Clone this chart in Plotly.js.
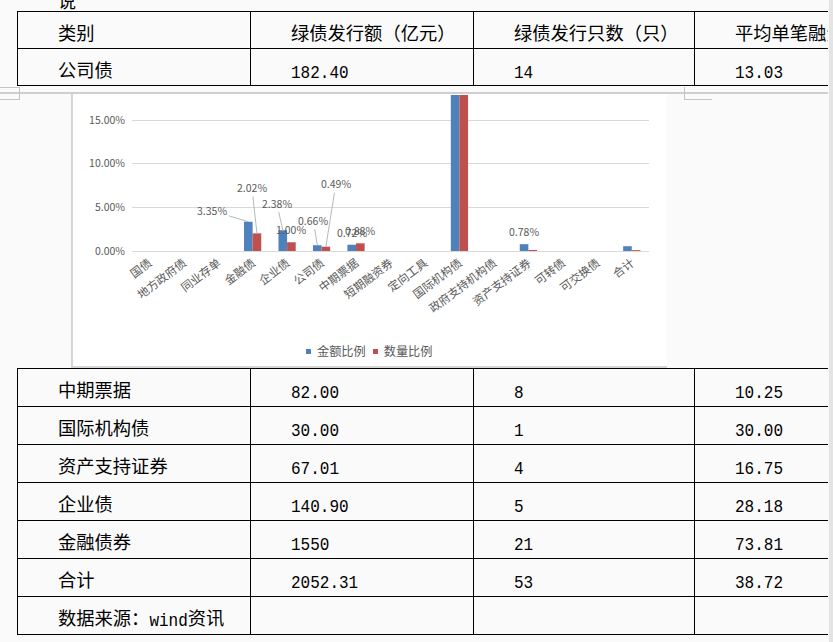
<!DOCTYPE html>
<html>
<head>
<meta charset="utf-8">
<script src="https://cdn.plot.ly/plotly-3.0.1.min.js"></script>
<style>
    body { margin: 0; width: 833px; height: 642px; overflow: hidden; background: #fafafa; position: relative; font-family: "Noto Sans CJK SC", sans-serif; }
    #clip { position: absolute; left: 0; top: 0; width: 828px; height: 642px; overflow: hidden; }
    #strip { position: absolute; left: 829px; top: 0; width: 4px; height: 642px; background: #e4e4e4; }
    table.doc { position: absolute; left: 17px; border-collapse: collapse; table-layout: fixed; width: 900px; }
    table.doc td { border: 1.5px solid #000; padding: 3px 0 0 40px; font-size: 18.3px; color: #000; white-space: nowrap; overflow: hidden; vertical-align: middle; box-sizing: border-box; }
    .num { font-family: "Liberation Mono", monospace; font-size: 16px; display: inline-block; transform: scaleY(1.18); }
    .mark { position: absolute; background: #c4c4c4; }
    #frame { position: absolute; left: 71px; top: 94px; width: 596px; height: 274px; background: #fff; box-sizing: border-box; border-left: 2px solid #d6d6d6; border-bottom: 2px solid #d6d6d6; }
    #chart { position: absolute; left: 73px; top: 94px; width: 594px; height: 272px; }
    #legend { position: absolute; left: 306px; top: 342px; font-size: 12.2px; color: #595959; white-space: nowrap; line-height: 18px; }
    #legend .sw { display: inline-block; width: 5px; height: 5px; margin: 0 6px 2px 0; vertical-align: middle; }
    #legend .item { margin-right: 7px; }
</style>
</head>
<body>
<div id="clip">
    <div style="position:absolute;left:58px;top:-13px;font-size:18px;color:#000;">说</div>

    <table class="doc" id="top-table" style="top:11px;">
        <colgroup><col style="width:233px"><col style="width:223px"><col style="width:221px"><col style="width:223px"></colgroup>
        <tbody></tbody>
    </table>

    <div class="mark" style="left:0;top:92px;width:828px;height:2px;background:#cfcfcf;"></div>
    <div class="mark" style="left:0;top:87px;width:19px;height:1px;"></div>
    <div class="mark" style="left:0;top:99px;width:19px;height:1px;"></div>
    <div class="mark" style="left:19px;top:87px;width:1px;height:13px;"></div>
    <div class="mark" style="left:684px;top:87px;width:1px;height:13px;"></div>
    <div class="mark" style="left:684px;top:99px;width:28px;height:1px;"></div>

    <div id="frame"></div>
    <div id="chart"></div>
    <div id="legend"></div>

    <table class="doc" id="bottom-table" style="top:368px;">
        <colgroup><col style="width:233px"><col style="width:223px"><col style="width:221px"><col style="width:223px"></colgroup>
        <tbody></tbody>
    </table>
</div>
<div id="strip"></div>

<script>
// chart data
var categories = ['国债', '地方政府债', '同业存单', '金融债', '企业债', '公司债', '中期票据', '短期融资券',
    '定向工具', '国际机构债', '政府支持机构债', '资产支持证券', '可转债', '可交换债', '合计']
var amountShare = [0, 0, 0, 0.0335, 0.0238, 0.0066, 0.0072, 0, 0, 0.30, 0, 0.0078, 0, 0, 0.0055]
var countShare = [0, 0, 0, 0.0202, 0.0100, 0.0049, 0.0088, 0, 0, 0.30, 0, 0.0012, 0, 0, 0.0010]
var seriesNames = ['金额比例', '数量比例']
var yTicks = [0, 0.05, 0.10, 0.15]

// table data
var tableHeader = ['类别', '绿债发行额（亿元）', '绿债发行只数（只）', '平均单笔融资额（亿元）']
var topRows = [['公司债', '182.40', '14', '13.03']]
var bottomRows = [
    ['中期票据', '82.00', '8', '10.25'],
    ['国际机构债', '30.00', '1', '30.00'],
    ['资产支持证券', '67.01', '4', '16.75'],
    ['企业债', '140.90', '5', '28.18'],
    ['金融债券', '1550', '21', '73.81'],
    ['合计', '2052.31', '53', '38.72'],
    ['数据来源：<span class="num">wind</span>资讯', '', '', '']
]

function fillTable(id, rows, rowHeight) {
    var body = document.querySelector('#' + id + ' tbody')
    rows.forEach(function (row) {
        var tr = document.createElement('tr')
        tr.style.height = rowHeight + 'px'
        row.forEach(function (cell) {
            var td = document.createElement('td')
            td.innerHTML = /^[0-9.]+$/.test(cell) ? '<span class="num">' + cell + '</span>' : cell
            tr.appendChild(td)
        })
        body.appendChild(tr)
    })
}
fillTable('top-table', [tableHeader].concat(topRows), 37)
fillTable('bottom-table', bottomRows, 38)

var colors = ['#4f81bd', '#c0504d']

var data = [
    { type: 'bar', x: categories, y: amountShare, name: seriesNames[0], marker: { color: colors[0] } },
    { type: 'bar', x: categories, y: countShare, name: seriesNames[1], marker: { color: colors[1] } }
]

// small legend like the office chart (plotly's own swatches are too big)
var legendNode = document.getElementById('legend')
seriesNames.forEach(function (name, i) {
    var item = document.createElement('span')
    item.className = 'item'
    item.innerHTML = '<span class="sw" style="background:' + colors[i] + '"></span>' + name
    legendNode.appendChild(item)
})

// which bars carry a label: [series, category index, ax, ay] (ax null = no leader line)
var labelSpecs = [
    [0, 3, -36, -11], [1, 3, -5, -46],
    [0, 4, -6, -27], [1, 4, null, 0],
    [0, 5, -4, -25], [1, 5, 10, -63],
    [0, 6, null, 0], [1, 6, null, 0],
    [0, 11, null, 0]
]

var annotations = labelSpecs.map(function (s) {
    var values = s[0] === 0 ? amountShare : countShare
    var v = values[s[1]]
    var a = {
        x: categories[s[1]], y: v, xref: 'x', yref: 'y',
        text: (v * 100).toFixed(2) + '%',
        xshift: s[0] === 0 ? -4.3 : 4.3,
        font: { size: 10.5, color: '#595959' }
    }
    if (s[2] === null) {
        a.showarrow = false
        a.yanchor = 'bottom'
        a.yshift = 3
    } else {
        a.showarrow = true
        a.arrowhead = 0
        a.arrowwidth = 0.8
        a.arrowcolor = '#a6a6a6'
        a.standoff = 0
        a.ax = s[2]
        a.ay = s[3]
    }
    return a
})

var layout = {
    width: 594,
    height: 272,
    margin: { l: 59, r: 18, t: 1, b: 115 },
    paper_bgcolor: 'rgba(0,0,0,0)',
    plot_bgcolor: 'rgba(0,0,0,0)',
    font: { family: 'Noto Sans CJK SC', color: '#595959', size: 10 },
    barmode: 'group',
    bargap: 0.5,
    bargroupgap: 0,
    showlegend: false,
    xaxis: {
        type: 'category',
        tickangle: -37,
        tickfont: { size: 11.5, color: '#595959' },
        showline: true,
        linecolor: '#d9d9d9',
        linewidth: 1,
        showgrid: false,
        fixedrange: true
    },
    yaxis: {
        range: [0, 0.1787],
        tickvals: yTicks,
        tickformat: '.2%',
        gridcolor: '#d9d9d9',
        zeroline: false,
        showline: false,
        ticklabelstandoff: 6,
        tickfont: { size: 10.5, color: '#595959' },
        fixedrange: true
    },
    annotations: annotations
}

Plotly.newPlot('chart', data, layout, { displayModeBar: false, staticPlot: true })
</script>
</body>
</html>
